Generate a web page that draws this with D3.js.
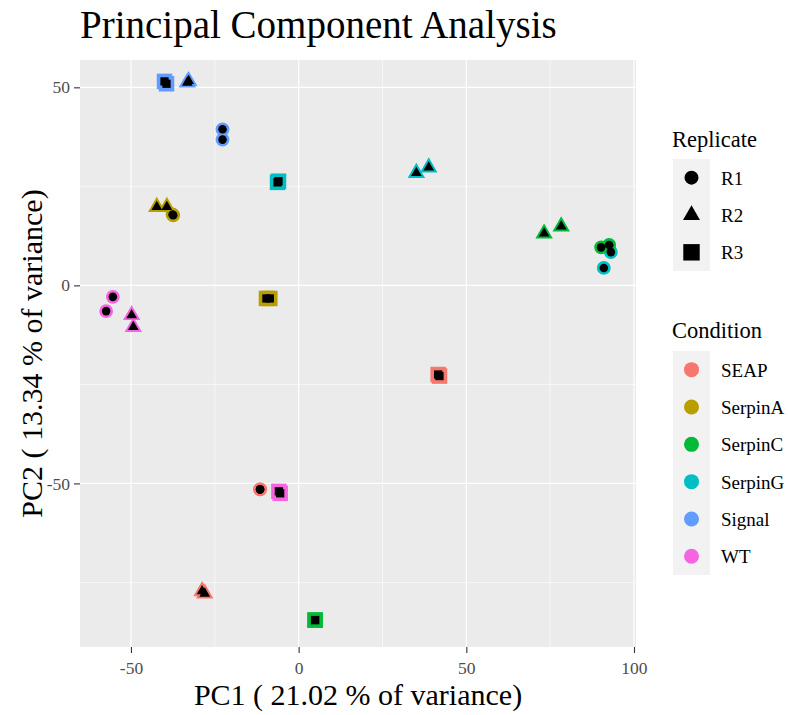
<!DOCTYPE html>
<html>
<head>
<meta charset="utf-8">
<script src="https://cdn.jsdelivr.net/npm/d3@7"></script>
<style>
  html, body { margin: 0; padding: 0; background: #ffffff; }
  svg text { font-family: "Liberation Serif", "Times New Roman", serif; }
</style>
</head>
<body>
<svg id="chart" width="788" height="715"></svg>
<script>
// PCA scores per sample (PC1, PC2), grouped by condition and replicate
const conditions = ["SEAP", "SerpinA", "SerpinC", "SerpinG", "Signal", "WT"];
const replicates = ["R1", "R2", "R3"];
const conditionColors = ["#F8766D", "#B79F00", "#00BA38", "#00BFC4", "#619CFF", "#F564E3"];

const sampleCondition = [
  "Signal", "Signal", "Signal", "Signal", "Signal", "Signal",
  "SerpinG", "SerpinG", "SerpinG", "SerpinG", "SerpinG", "SerpinG",
  "SerpinA", "SerpinA", "SerpinA", "SerpinA", "SerpinA", "SerpinA",
  "SerpinC", "SerpinC", "SerpinC", "SerpinC", "SerpinC", "SerpinC",
  "WT", "WT", "WT", "WT", "WT", "WT",
  "SEAP", "SEAP", "SEAP", "SEAP", "SEAP", "SEAP"
];
const sampleReplicate = [
  "R3", "R3", "R2", "R2", "R1", "R1",
  "R3", "R3", "R2", "R2", "R1", "R1",
  "R2", "R2", "R1", "R1", "R3", "R3",
  "R2", "R2", "R1", "R1", "R3", "R3",
  "R1", "R1", "R2", "R2", "R3", "R3",
  "R1", "R1", "R2", "R2", "R3", "R3"
];
const pc1 = [
  -40.0, -39.4, -33.2, -32.8, -22.7, -22.7,
  -6.3, -6.0, 35.1, 38.8, 93.1, 91.0,
  -42.3, -39.3, -37.4, -37.6, -9.6, -8.6,
  73.2, 78.3, 90.2, 92.6, 4.9, 4.9,
  -55.4, -57.4, -49.8, -49.3, -5.9, -5.5,
  -11.5, -11.5, -28.8, -28.0, 41.6, 42.0
];
const pc2 = [
  51.5, 50.9, 51.2, 51.6, 39.4, 36.8,
  26.0, 26.3, 28.4, 29.8, 8.4, 4.4,
  19.8, 19.8, 17.7, 17.9, -3.3, -3.3,
  13.1, 14.9, 9.6, 10.2, -84.5, -84.5,
  -2.9, -6.5, -7.5, -10.5, -52.0, -52.5,
  -51.5, -51.5, -77.2, -77.8, -22.5, -22.9
];

const xMajorTicks = [-50, 0, 50, 100];
const yMajorTicks = [-50, 0, 50];
const xMinorTicks = [-25, 25, 75];
const yMinorTicks = [-75, -25, 25];

const titleText = "Principal Component Analysis";
const xTitle = "PC1 ( 21.02 % of variance)";
const yTitle = "PC2 ( 13.34 % of variance)";

const samples = pc1.map((x, i) => ({
  x, y: pc2[i], condition: sampleCondition[i], replicate: sampleReplicate[i]
}));

const svg = d3.select("#chart");
const panel = { left: 80, right: 636, top: 60, bottom: 647 };

const x = d3.scaleLinear().domain([-65.2, 100.6]).range([panel.left, panel.right]);
const y = d3.scaleLinear().domain([-91.3, 56.9]).range([panel.bottom, panel.top]);
const color = d3.scaleOrdinal().domain(conditions).range(conditionColors);
const shapeType = d3.scaleOrdinal().domain(replicates)
  .range([d3.symbolCircle, d3.symbolTriangle, d3.symbolSquare]);

// outer (coloured) and inner (black) marker areas for each replicate shape
const outerSize = { R1: 150, R2: 132, R3: 240 };
const innerSize = { R1: 58, R2: 50, R3: 68 };

// panel background and grid
svg.append("rect")
  .attr("x", panel.left).attr("y", panel.top)
  .attr("width", panel.right - panel.left).attr("height", panel.bottom - panel.top)
  .attr("fill", "#EBEBEB");

const grid = svg.append("g");
grid.selectAll(".vminor").data(xMinorTicks).join("line")
  .attr("x1", d => x(d)).attr("x2", d => x(d))
  .attr("y1", panel.top).attr("y2", panel.bottom)
  .attr("stroke", "#ffffff").attr("stroke-width", 0.6);
grid.selectAll(".hminor").data(yMinorTicks).join("line")
  .attr("y1", d => y(d)).attr("y2", d => y(d))
  .attr("x1", panel.left).attr("x2", panel.right)
  .attr("stroke", "#ffffff").attr("stroke-width", 0.6);
grid.selectAll(".vmajor").data(xMajorTicks).join("line")
  .attr("x1", d => x(d)).attr("x2", d => x(d))
  .attr("y1", panel.top).attr("y2", panel.bottom)
  .attr("stroke", "#ffffff").attr("stroke-width", 1.2);
grid.selectAll(".hmajor").data(yMajorTicks).join("line")
  .attr("y1", d => y(d)).attr("y2", d => y(d))
  .attr("x1", panel.left).attr("x2", panel.right)
  .attr("stroke", "#ffffff").attr("stroke-width", 1.2);

// axes
const xAxis = svg.append("g")
  .attr("transform", `translate(0,${panel.bottom})`)
  .call(d3.axisBottom(x).tickValues(xMajorTicks).tickSize(6).tickPadding(9).tickFormat(d3.format("d")));
const yAxis = svg.append("g")
  .attr("transform", `translate(${panel.left},0)`)
  .call(d3.axisLeft(y).tickValues(yMajorTicks).tickSize(6).tickPadding(4).tickFormat(d3.format("d")));
[xAxis, yAxis].forEach(ax => {
  ax.attr("font-family", "Liberation Serif").attr("font-size", 17.5);
  ax.select(".domain").remove();
  ax.selectAll(".tick line").attr("stroke", "#333333").attr("stroke-width", 1.1);
  ax.selectAll(".tick text")
    .attr("fill", "#4D4D4D")
    .attr("font-family", "Liberation Serif")
    .style("font-family", "'Liberation Serif', 'Times New Roman', serif")
    .style("font-size", "17.5px")
    .text(d => d < 0 ? "-" + Math.abs(d) : d);
});

// points: coloured marker with a smaller black marker on top
const pts = svg.append("g");
pts.selectAll(".outer").data(samples).join("path")
  .attr("transform", d => `translate(${x(d.x)},${y(d.y)})`)
  .attr("d", d => d3.symbol().type(shapeType(d.replicate)).size(outerSize[d.replicate])())
  .attr("fill", d => color(d.condition));
pts.selectAll(".inner").data(samples).join("path")
  .attr("transform", d => `translate(${x(d.x)},${y(d.y)})`)
  .attr("d", d => d3.symbol().type(shapeType(d.replicate)).size(innerSize[d.replicate])())
  .attr("fill", "#000000");

// titles
svg.append("text")
  .attr("x", 80).attr("y", 38)
  .attr("font-size", 39).attr("fill", "#000")
  .text(titleText);
svg.append("text")
  .attr("x", (panel.left + panel.right) / 2).attr("y", 705)
  .attr("text-anchor", "middle").attr("font-size", 30).attr("fill", "#000")
  .text(xTitle);
svg.append("text")
  .attr("transform", `translate(42,${(panel.top + panel.bottom) / 2}) rotate(-90)`)
  .attr("text-anchor", "middle").attr("font-size", 30).attr("fill", "#000")
  .text(yTitle);

// legends
const keyX = 673, keyW = 37, keyH = 37.33;

const repLegend = svg.append("g");
repLegend.append("text").attr("x", 672).attr("y", 147)
  .attr("font-size", 22.5).attr("fill", "#000").text("Replicate");
repLegend.append("rect").attr("x", keyX).attr("y", 159)
  .attr("width", keyW).attr("height", keyH * replicates.length).attr("fill", "#F2F2F2");
const repLegendSize = { R1: 154, R2: 125, R3: 270 };
replicates.forEach((r, i) => {
  const cy = 159 + keyH * i + keyH / 2;
  repLegend.append("path")
    .attr("transform", `translate(${keyX + keyW / 2},${cy})`)
    .attr("d", d3.symbol().type(shapeType(r)).size(repLegendSize[r])())
    .attr("fill", "#000");
  repLegend.append("text").attr("x", 721).attr("y", cy + 7)
    .attr("font-size", 19).attr("fill", "#000").text(r);
});

const condLegend = svg.append("g");
condLegend.append("text").attr("x", 672).attr("y", 338)
  .attr("font-size", 22.5).attr("fill", "#000").text("Condition");
condLegend.append("rect").attr("x", keyX).attr("y", 351)
  .attr("width", keyW).attr("height", keyH * conditions.length).attr("fill", "#F2F2F2");
conditions.forEach((c, i) => {
  const cy = 351 + keyH * i + keyH / 2;
  condLegend.append("path")
    .attr("transform", `translate(${keyX + keyW / 2},${cy})`)
    .attr("d", d3.symbol().type(d3.symbolCircle).size(177)())
    .attr("fill", color(c));
  condLegend.append("text").attr("x", 721).attr("y", cy + 7)
    .attr("font-size", 19).attr("fill", "#000").text(c);
});
</script>
</body>
</html>
